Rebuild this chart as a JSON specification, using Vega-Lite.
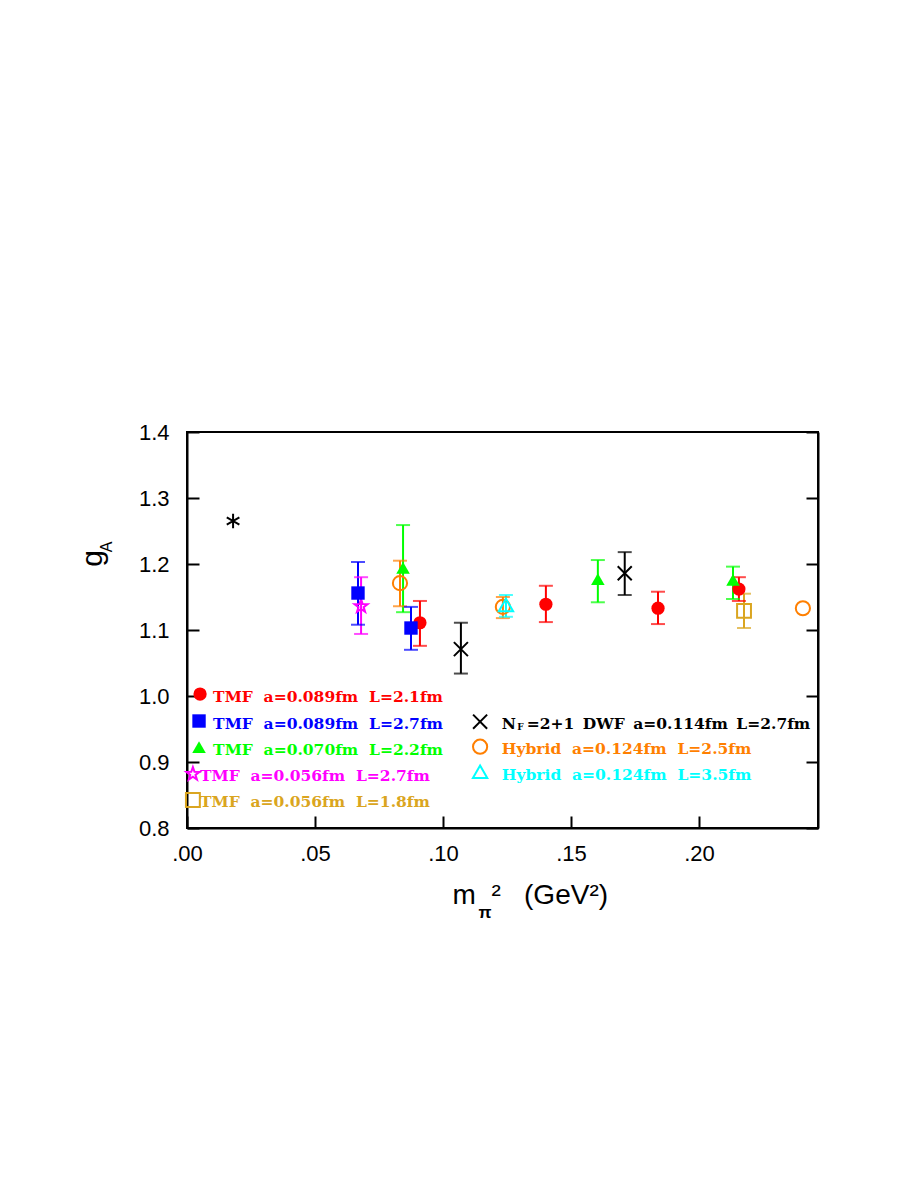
{
  "$schema": "https://vega.github.io/schema/vega-lite/v6.json",
  "autosize": {"type": "none"},
  "padding": {"left": 187, "top": 432, "right": 95, "bottom": 354},
  "width": 631,
  "height": 396,
  "background": "white",
  "config": {
    "view": {"stroke": "black", "strokeWidth": 2},
    "axis": {
      "labelFont": "Liberation Sans",
      "labelFontSize": 22,
      "labelColor": "black",
      "titleFont": "Liberation Sans",
      "titleFontWeight": "normal",
      "titleColor": "black",
      "domainColor": "black",
      "domainWidth": 2,
      "tickColor": "black",
      "tickWidth": 2,
      "grid": false,
      "labelFlush": false,
      "labelOverlap": false
    }
  },
  "datasets": {
    "pts": [
      {"s": "tmf1", "x": 0.091, "y": 1.111, "lo": 1.076, "hi": 1.144},
      {"s": "tmf1", "x": 0.1402, "y": 1.139, "lo": 1.112, "hi": 1.167},
      {"s": "tmf1", "x": 0.184, "y": 1.133, "lo": 1.109, "hi": 1.158},
      {"s": "tmf1", "x": 0.2156, "y": 1.162, "lo": 1.144, "hi": 1.18},
      {"s": "tmf2", "x": 0.0668, "y": 1.156, "lo": 1.108, "hi": 1.203},
      {"s": "tmf2", "x": 0.0875, "y": 1.103, "lo": 1.07, "hi": 1.135},
      {"s": "tmf3", "x": 0.0844, "y": 1.194, "lo": 1.127, "hi": 1.259},
      {"s": "tmf3", "x": 0.1605, "y": 1.177, "lo": 1.142, "hi": 1.206},
      {"s": "tmf3", "x": 0.2133, "y": 1.176, "lo": 1.147, "hi": 1.196},
      {"s": "tmf4", "x": 0.068, "y": 1.136, "lo": 1.094, "hi": 1.18},
      {"s": "tmf5", "x": 0.2176, "y": 1.129, "lo": 1.103, "hi": 1.155},
      {"s": "dwf", "x": 0.107, "y": 1.071, "lo": 1.034, "hi": 1.111},
      {"s": "dwf", "x": 0.171, "y": 1.186, "lo": 1.153, "hi": 1.218},
      {"s": "hyb1", "x": 0.0832, "y": 1.171, "lo": 1.136, "hi": 1.205},
      {"s": "hyb1", "x": 0.1234, "y": 1.135, "lo": 1.118, "hi": 1.15},
      {"s": "hyb1", "x": 0.2406, "y": 1.133, "lo": null, "hi": null},
      {"s": "hyb2", "x": 0.1246, "y": 1.138, "lo": 1.12, "hi": 1.153},
      {"s": "ast", "x": 0.018, "y": 1.265, "lo": null, "hi": null}
    ],
    "leg": [
      {"s": "tmf1", "label": "TMF\u00a0\u00a0a=0.089fm\u00a0\u00a0L=2.1fm", "sx": 0.0051, "sy": 1.003, "tx": 0.0102, "ty": 0.9985},
      {"s": "tmf2", "label": "TMF\u00a0\u00a0a=0.089fm\u00a0\u00a0L=2.7fm", "sx": 0.0047, "sy": 0.9621, "tx": 0.0102, "ty": 0.9583},
      {"s": "tmf3", "label": "TMF\u00a0\u00a0a=0.070fm\u00a0\u00a0L=2.2fm", "sx": 0.0047, "sy": 0.9227, "tx": 0.0102, "ty": 0.9189},
      {"s": "tmf4", "label": "TMF\u00a0\u00a0a=0.056fm\u00a0\u00a0L=2.7fm", "sx": 0.0023, "sy": 0.8818, "tx": 0.0051, "ty": 0.8788},
      {"s": "tmf5", "label": "TMF\u00a0\u00a0a=0.056fm\u00a0\u00a0L=1.8fm", "sx": 0.0023, "sy": 0.8424, "tx": 0.0051, "ty": 0.8394},
      {"s": "dwf", "label": "N\u00a0\u00a0=2+1\u00a0\u2009DWF\u00a0\u2009a=0.114fm\u00a0\u2009L=2.7fm", "sx": 0.1145, "sy": 0.9611, "tx": 0.123, "ty": 0.9583},
      {"s": "hyb1", "label": "Hybrid\u00a0\u00a0a=0.124fm\u00a0\u00a0L=2.5fm", "sx": 0.1145, "sy": 0.9232, "tx": 0.123, "ty": 0.9197},
      {"s": "hyb2", "label": "Hybrid\u00a0\u00a0a=0.124fm\u00a0\u00a0L=3.5fm", "sx": 0.1145, "sy": 0.8853, "tx": 0.123, "ty": 0.8803}
    ]
  },
  "resolve": {"axis": {"x": "independent", "y": "independent"}},
  "layer": [
    {
      "data": {"name": "pts"},
      "transform": [{"filter": "isValid(datum.lo)"}],
      "mark": {"type": "rule", "strokeWidth": 2},
      "encoding": {
        "x": {"field": "x", "type": "quantitative", "scale": {"domain": [0, 0.2465], "nice": false, "zero": false},
          "axis": {"orient": "bottom", "values": [0, 0.05, 0.1, 0.15, 0.2], "labelExpr": "substring(format(datum.value, '.2f'), 1)", "tickSize": -12, "labelPadding": 27,
            "title": "m\u00a0\u00a0²\u00a0\u00a0\u00a0(GeV²)", "titleX": 265, "titleY": 75, "titleAlign": "left", "titleBaseline": "alphabetic", "titleFontSize": 28, "titleAnchor": null}},
        "y": {"field": "lo", "type": "quantitative", "scale": {"domain": [0.8, 1.4], "nice": false, "zero": false},
          "axis": {"orient": "left", "values": [0.8, 0.9, 1.0, 1.1, 1.2, 1.3, 1.4], "format": ".1f", "tickSize": -12, "labelPadding": 30,
            "title": "g", "titleX": -95, "titleY": 126, "titleAngle": 270, "titleAlign": "center", "titleBaseline": "middle", "titleFontSize": 30}},
        "y2": {"field": "hi"},
        "color": {"field": "s", "type": "nominal", "legend": null,
          "scale": {"domain": ["tmf1", "tmf2", "tmf3", "tmf4", "tmf5", "dwf", "hyb1", "hyb2", "ast"],
            "range": ["#ff0000", "#0000ff", "#00ff00", "#ff00ff", "#daa520", "#000000", "#ff7f00", "#00ffff", "#000000"]}}
      }
    },
    {
      "data": {"name": "pts"},
      "transform": [{"filter": "isValid(datum.lo)"}],
      "mark": {"type": "tick", "orient": "horizontal", "size": 14, "thickness": 2},
      "encoding": {
        "x": {"field": "x", "type": "quantitative", "axis": null},
        "y": {"field": "lo", "type": "quantitative",
          "axis": {"orient": "right", "values": [0.8, 0.9, 1.0, 1.1, 1.2, 1.3, 1.4], "labels": false, "tickSize": -12, "title": null}},
        "color": {"field": "s", "type": "nominal", "legend": null}
      }
    },
    {
      "data": {"name": "pts"},
      "transform": [{"filter": "isValid(datum.hi)"}],
      "mark": {"type": "tick", "orient": "horizontal", "size": 14, "thickness": 2},
      "encoding": {
        "x": {"field": "x", "type": "quantitative", "axis": null},
        "y": {"field": "hi", "type": "quantitative", "axis": null},
        "color": {"field": "s", "type": "nominal", "legend": null}
      }
    },
    {
      "data": {"name": "pts"},
      "transform": [{"filter": {"field": "s", "oneOf": ["tmf4", "tmf5", "dwf", "hyb1", "hyb2", "ast"]}}],
      "mark": {"type": "point", "filled": false, "strokeWidth": 2, "opacity": 1},
      "encoding": {
        "x": {"field": "x", "type": "quantitative", "axis": null},
        "y": {"field": "y", "type": "quantitative", "axis": null},
        "color": {"field": "s", "type": "nominal", "legend": null},
        "shape": {"field": "s", "type": "nominal", "legend": null,
          "scale": {"domain": ["tmf1", "tmf2", "tmf3", "tmf4", "tmf5", "dwf", "hyb1", "hyb2", "ast"],
            "range": ["circle", "square", "triangle-up",
              "M0,-1L0.235,-0.324L0.951,-0.309L0.38,0.124L0.588,0.809L0,0.4L-0.588,0.809L-0.38,0.124L-0.951,-0.309L-0.235,-0.324Z",
              "square", "M-1,-1L1,1M-1,1L1,-1", "circle", "triangle-up",
              "M0,-1L0,1M-0.87,-0.5L0.87,0.5M-0.87,0.5L0.87,-0.5"]}},
        "size": {"field": "s", "type": "nominal", "legend": null,
          "scale": {"domain": ["tmf1", "tmf2", "tmf3", "tmf4", "tmf5", "dwf", "hyb1", "hyb2", "ast"],
            "range": [175, 210, 230, 180, 190, 200, 160, 190, 150]}}
      }
    },
    {
      "data": {"name": "pts"},
      "transform": [{"filter": {"field": "s", "oneOf": ["tmf1", "tmf2", "tmf3"]}}],
      "mark": {"type": "point", "filled": true, "opacity": 1},
      "encoding": {
        "x": {"field": "x", "type": "quantitative", "axis": null},
        "y": {"field": "y", "type": "quantitative", "axis": null},
        "color": {"field": "s", "type": "nominal", "legend": null},
        "shape": {"field": "s", "type": "nominal", "legend": null},
        "size": {"field": "s", "type": "nominal", "legend": null}
      }
    },
    {
      "data": {"name": "leg"},
      "transform": [{"filter": {"field": "s", "oneOf": ["tmf4", "tmf5", "dwf", "hyb1", "hyb2"]}}],
      "mark": {"type": "point", "filled": false, "strokeWidth": 2, "opacity": 1},
      "encoding": {
        "x": {"field": "sx", "type": "quantitative", "axis": null},
        "y": {"field": "sy", "type": "quantitative", "axis": null},
        "color": {"field": "s", "type": "nominal", "legend": null},
        "shape": {"field": "s", "type": "nominal", "legend": null},
        "size": {"field": "s", "type": "nominal", "legend": null}
      }
    },
    {
      "data": {"name": "leg"},
      "transform": [{"filter": {"field": "s", "oneOf": ["tmf1", "tmf2", "tmf3"]}}],
      "mark": {"type": "point", "filled": true, "opacity": 1},
      "encoding": {
        "x": {"field": "sx", "type": "quantitative", "axis": null},
        "y": {"field": "sy", "type": "quantitative", "axis": null},
        "color": {"field": "s", "type": "nominal", "legend": null},
        "shape": {"field": "s", "type": "nominal", "legend": null},
        "size": {"field": "s", "type": "nominal", "legend": null}
      }
    },
    {
      "data": {"name": "leg"},
      "mark": {"type": "text", "align": "left", "baseline": "middle", "font": "DejaVu Serif", "fontWeight": "bold", "fontSize": 15.5},
      "encoding": {
        "x": {"field": "tx", "type": "quantitative", "axis": null},
        "y": {"field": "ty", "type": "quantitative", "axis": null},
        "text": {"field": "label"},
        "color": {"field": "s", "type": "nominal", "legend": null}
      }
    },
    {
      "data": {"values": [{"t": "F", "x": 0.1303, "y": 0.953}]},
      "mark": {"type": "text", "align": "center", "baseline": "middle", "font": "DejaVu Serif", "fontWeight": "bold", "fontSize": 9, "color": "black"},
      "encoding": {
        "x": {"field": "x", "type": "quantitative", "axis": null},
        "y": {"field": "y", "type": "quantitative", "axis": null},
        "text": {"field": "t"}
      }
    },
    {
      "data": {"values": [{"t": "A", "x": -0.03125, "y": 1.2258}]},
      "mark": {"type": "text", "align": "center", "baseline": "middle", "font": "Liberation Sans", "fontSize": 16, "angle": 270, "color": "black"},
      "encoding": {
        "x": {"field": "x", "type": "quantitative", "axis": null},
        "y": {"field": "y", "type": "quantitative", "axis": null},
        "text": {"field": "t"}
      }
    },
    {
      "data": {"values": [{"t": "π", "x": 0.1164, "y": 0.6712}]},
      "mark": {"type": "text", "align": "center", "baseline": "middle", "font": "Liberation Sans", "fontWeight": "bold", "fontSize": 17, "color": "black"},
      "encoding": {
        "x": {"field": "x", "type": "quantitative", "axis": null},
        "y": {"field": "y", "type": "quantitative", "axis": null},
        "text": {"field": "t"}
      }
    }
  ]
}
